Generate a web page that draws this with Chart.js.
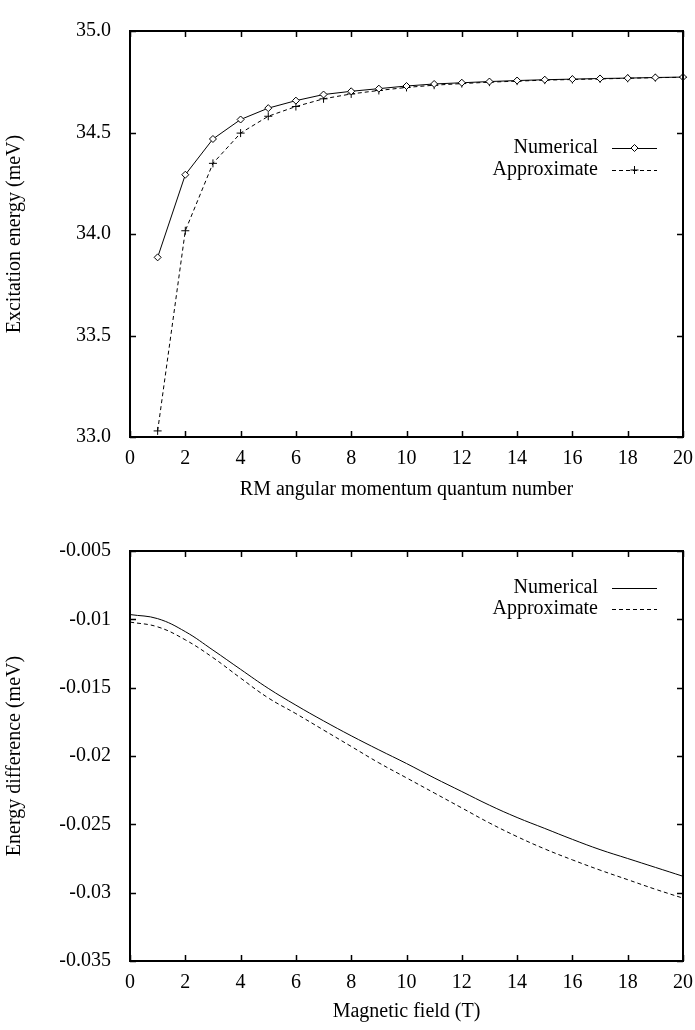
<!DOCTYPE html>
<html>
<head>
<meta charset="utf-8">
<script src="https://cdn.jsdelivr.net/npm/chart.js@4/dist/chart.umd.min.js"></script>
<style>
  html, body { margin: 0; padding: 0; background: #fff; }
  #wrap { position: relative; width: 695px; height: 1030px; }
  canvas { position: absolute; left: 0; }
  #c1 { top: 0; z-index: 2; }
  #c2 { top: 500px; z-index: 1; }
</style>
</head>
<body>
<div id="wrap">
  <canvas id="c1" width="695" height="510"></canvas>
  <canvas id="c2" width="695" height="530"></canvas>
</div>
<script>
// ---------- Top panel data ----------
const quantumNumbers = [1,2,3,4,5,6,7,8,9,10,11,12,13,14,15,16,17,18,19,20];
const numericalEnergy = [33.885,34.292,34.468,34.564,34.620,34.657,34.687,34.703,34.716,34.729,
                         34.739,34.745,34.751,34.756,34.760,34.763,34.766,34.768,34.771,34.773];
const approximateEnergy = [33.030,34.016,34.348,34.497,34.580,34.628,34.666,34.690,34.707,34.722,
                           34.733,34.741,34.748,34.753,34.758,34.761,34.764,34.767,34.770,34.772];
const topXTicks = [0,2,4,6,8,10,12,14,16,18,20];
const topYTicks = [33.0,33.5,34.0,34.5,35.0];

// ---------- Bottom panel data ----------
const magneticField = [0,1,2,3,4,5,6,7,8,9,10,11,12,13,14,15,16,17,18,19,20];
const numericalDiff = [-0.00965,-0.00995,-0.01090,-0.01225,-0.01366,-0.01505,-0.01628,-0.01743,-0.01852,-0.01955,
                       -0.02055,-0.02160,-0.02260,-0.02360,-0.02450,-0.02530,-0.02610,-0.02685,-0.02750,-0.02815,-0.02880];
const approximateDiff = [-0.01020,-0.01055,-0.01150,-0.01280,-0.01430,-0.01575,-0.01690,-0.01810,-0.01930,-0.02050,
                         -0.02160,-0.02270,-0.02380,-0.02490,-0.02590,-0.02680,-0.02760,-0.02835,-0.02905,-0.02975,-0.03040];
const bottomXTicks = [0,2,4,6,8,10,12,14,16,18,20];
const bottomYTicks = [-0.035,-0.03,-0.025,-0.02,-0.015,-0.01,-0.005];

const FONT = "'Liberation Serif', 'DejaVu Serif', serif";
const toXY = (xs, ys) => xs.map((x, i) => ({x: x, y: ys[i]}));

// Frame, inward ticks (gnuplot style, mirrored) and legend
const gnuplotPlugin = {
  id: 'gnuplotFrame',
  afterDatasetsDraw(chart, args, opts) {
    const ctx = chart.ctx;
    const a = chart.chartArea;
    const xs = chart.scales.x, ys = chart.scales.y;
    const tl = 6;
    ctx.save();
    ctx.strokeStyle = '#000';
    ctx.lineWidth = 1.5;
    ctx.beginPath();
    xs.ticks.forEach(t => {
      const px = Math.round(xs.getPixelForValue(t.value)) + 0.5;
      ctx.moveTo(px, a.bottom); ctx.lineTo(px, a.bottom - tl);
      ctx.moveTo(px, a.top); ctx.lineTo(px, a.top + tl);
    });
    ys.ticks.forEach(t => {
      const py = Math.round(ys.getPixelForValue(t.value)) + 0.5;
      ctx.moveTo(a.left, py); ctx.lineTo(a.left + tl, py);
      ctx.moveTo(a.right, py); ctx.lineTo(a.right - tl, py);
    });
    ctx.stroke();
    ctx.lineWidth = 2;
    ctx.strokeRect(a.left, a.top, a.right - a.left, a.bottom - a.top);

    // legend: text right-aligned, sample on the right
    const textRight = a.left + opts.textRight;
    const x0 = a.left + opts.lineStart, x1 = a.left + opts.lineEnd;
    chart.data.datasets.forEach((ds, i) => {
      const y = a.top + opts.rowTop + i * opts.rowGap;
      ctx.fillStyle = '#000';
      ctx.font = '20px ' + FONT;
      ctx.textAlign = 'right';
      ctx.textBaseline = 'middle';
      ctx.fillText(ds.label, textRight, y);
      ctx.lineWidth = 1;
      ctx.setLineDash(ds.borderDash || []);
      ctx.beginPath();
      ctx.moveTo(x0, y + 0.5); ctx.lineTo(x1, y + 0.5);
      ctx.stroke();
      ctx.setLineDash([]);
      if (opts.markers && ds.pointRadius > 0) {
        const mx = (x0 + x1) / 2;
        const r = ds.pointRadius;
        ctx.beginPath();
        if (ds.pointStyle === 'rectRot') {
          ctx.moveTo(mx, y - r); ctx.lineTo(mx + r, y); ctx.lineTo(mx, y + r); ctx.lineTo(mx - r, y); ctx.closePath();
          ctx.fillStyle = '#fff'; ctx.fill(); ctx.stroke();
        } else {
          ctx.moveTo(mx - r, y); ctx.lineTo(mx + r, y);
          ctx.moveTo(mx, y - r); ctx.lineTo(mx, y + r);
          ctx.stroke();
        }
      }
    });
    ctx.restore();
  }
};

function baseScales(xTicks, yTicks, xTitle, yTitle, yFmt, xHeight, titlePadBottom) {
  return {
    x: {
      type: 'linear',
      min: xTicks[0], max: xTicks[xTicks.length - 1],
      afterBuildTicks: s => { s.ticks = xTicks.map(v => ({value: v})); },
      afterFit: s => { s.height = xHeight; s.paddingRight = 0; },
      grid: { drawOnChartArea: false, drawTicks: false },
      border: { display: false },
      ticks: { color: '#000', font: { family: FONT, size: 20 }, padding: 10, maxRotation: 0,
               callback: v => String(v) },
      title: { display: true, text: xTitle, color: '#000', font: { family: FONT, size: 20 },
               padding: { top: 4, bottom: titlePadBottom } }
    },
    y: {
      type: 'linear',
      min: yTicks[0], max: yTicks[yTicks.length - 1],
      afterBuildTicks: s => { s.ticks = yTicks.map(v => ({value: v})); },
      afterFit: s => { s.width = 130; },
      grid: { drawOnChartArea: false, drawTicks: false },
      border: { display: false },
      ticks: { color: '#000', font: { family: FONT, size: 20 }, padding: 19, callback: yFmt },
      title: { display: true, text: yTitle, color: '#000', font: { family: FONT, size: 20 }, padding: { top: 3, bottom: 0 } }
    }
  };
}

Chart.defaults.animation = false;

new Chart(document.getElementById('c1'), {
  type: 'line',
  data: {
    datasets: [
      { label: 'Numerical', data: toXY(quantumNumbers, numericalEnergy),
        borderColor: '#000', borderWidth: 1, backgroundColor: '#fff',
        pointStyle: 'rectRot', pointRadius: 3.5, pointBorderWidth: 1, pointBackgroundColor: '#fff', pointBorderColor: '#000',
        tension: 0, clip: false },
      { label: 'Approximate', data: toXY(quantumNumbers, approximateEnergy),
        borderColor: '#000', borderWidth: 1, borderDash: [4, 3],
        pointStyle: 'cross', pointRadius: 4, pointBorderWidth: 1, pointBorderColor: '#000',
        tension: 0, clip: false }
    ]
  },
  options: {
    responsive: false,
    events: [],
    layout: { padding: { top: 21, right: 12, left: 0, bottom: 0 } },
    plugins: { legend: { display: false }, tooltip: { enabled: false },
               gnuplotFrame: { textRight: 468, lineStart: 482, lineEnd: 527, rowTop: 117, rowGap: 22, markers: true } },
    scales: baseScales(topXTicks, topYTicks, 'RM angular momentum quantum number', 'Excitation energy (meV)',
                       v => Number(v).toFixed(1), 73, 8)
  },
  plugins: [gnuplotPlugin]
});

new Chart(document.getElementById('c2'), {
  type: 'line',
  data: {
    datasets: [
      { label: 'Numerical', data: toXY(magneticField, numericalDiff),
        borderColor: '#000', borderWidth: 1, pointRadius: 0, tension: 0.4 },
      { label: 'Approximate', data: toXY(magneticField, approximateDiff),
        borderColor: '#000', borderWidth: 1, borderDash: [4, 3], pointRadius: 0, tension: 0.4 }
    ]
  },
  options: {
    responsive: false,
    events: [],
    layout: { padding: { top: 51, right: 12, left: 0, bottom: 0 } },
    plugins: { legend: { display: false }, tooltip: { enabled: false },
               gnuplotFrame: { textRight: 468, lineStart: 482, lineEnd: 527, rowTop: 37, rowGap: 21, markers: false } },
    scales: baseScales(bottomXTicks, bottomYTicks, 'Magnetic field (T)', 'Energy difference (meV)',
                       v => String(Number(Number(v).toFixed(3))), 69, 6)
  },
  plugins: [gnuplotPlugin]
});
</script>
</body>
</html>
